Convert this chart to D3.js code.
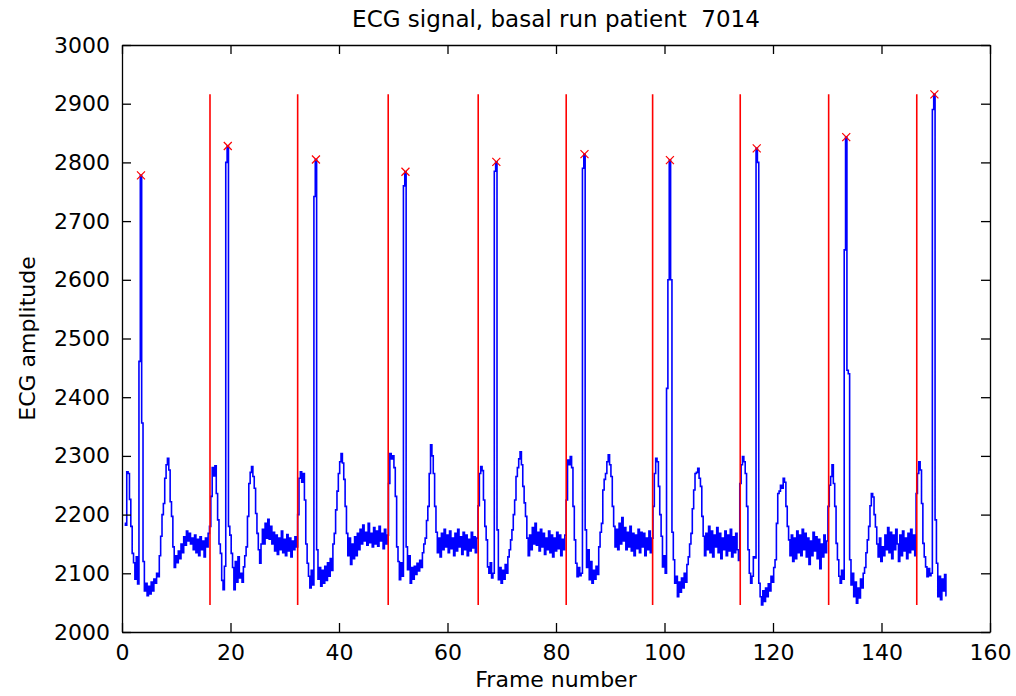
<!DOCTYPE html>
<html>
<head>
<meta charset="utf-8">
<script src="https://cdn.jsdelivr.net/npm/d3@7"></script>
<style>
  body { margin: 0; background: #fff; }
  text { font-family: "DejaVu Sans", sans-serif; fill: #000; }
</style>
</head>
<body>
<div id="chart"></div>
<script>
const width = 1016;
const height = 696;
const margin = {top: 45, right: 26, bottom: 64, left: 122};

// ECG samples, one every quarter frame starting at frame 0.5
const sampleStart = 0.5;
const sampleStep = 0.25;
const ecgAmplitude = [
  // beat 1
  2185, 2182, 2273, 2270, 2226, 2180, 2134, 2118, 2090, 2128,
  2082, 2461, 2778, 2356, 2120, 2070, 2083, 2062, 2078, 2065,
  2085, 2070, 2090, 2083, 2100, 2094, 2130, 2163, 2200, 2219,
  2262, 2285, 2296, 2276, 2222, 2197, 2145, 2110, 2130, 2118,
  2138, 2125, 2150, 2135, 2162, 2148, 2172, 2155, 2168, 2150,
  2160, 2140, 2165, 2135, 2158, 2130, 2162, 2140, 2155, 2128,
  2160, 2145, 2168,
  // beat 2
  2180, 2231, 2280, 2266, 2283, 2236, 2191, 2150, 2134, 2088,
  2072, 2112, 2800, 2828, 2180, 2165, 2134, 2110, 2072, 2120,
  2085, 2128, 2092, 2100, 2085, 2111, 2130, 2145, 2197, 2253,
  2272, 2282, 2265, 2245, 2202, 2168, 2140, 2117, 2150, 2175,
  2150, 2185, 2160, 2192, 2158, 2180, 2150, 2170, 2138, 2165,
  2132, 2160, 2140, 2172, 2135, 2158, 2130, 2166, 2138, 2160,
  2128, 2155, 2140, 2162, 2145,
  // beat 3
  2200, 2262, 2273, 2255, 2270, 2225, 2150, 2117, 2095, 2075,
  2105, 2080, 2742, 2805, 2140, 2090, 2110, 2078, 2105, 2083,
  2112, 2088, 2118, 2095, 2125, 2105, 2150, 2168, 2208, 2240,
  2270, 2290, 2304, 2288, 2260, 2214, 2168, 2130, 2160, 2115,
  2150, 2125, 2162, 2130, 2168, 2140, 2175, 2150, 2182, 2155,
  2170, 2148, 2185, 2152, 2168, 2145, 2178, 2150, 2172, 2146,
  2180, 2155, 2168, 2142, 2175, 2150, 2165,
  // beat 4
  2253, 2304, 2295, 2300, 2280, 2231, 2145, 2120, 2089, 2118,
  2095, 2760, 2784, 2145, 2106, 2130, 2083, 2110, 2090, 2112,
  2098, 2117, 2104, 2122, 2110, 2135, 2150, 2160, 2190, 2214,
  2270, 2319, 2300, 2270, 2214, 2170, 2135, 2160, 2128, 2168,
  2140, 2175, 2145, 2165, 2135, 2172, 2142, 2160, 2130, 2168,
  2138, 2175, 2145, 2162, 2132, 2170, 2140, 2165, 2130, 2158,
  2138, 2170, 2143, 2162, 2135, 2160,
  // beat 5
  2215, 2270, 2282, 2275, 2225, 2180, 2157, 2111, 2100, 2118,
  2092, 2100, 2785, 2801, 2174, 2089, 2110, 2083, 2105, 2090,
  2115, 2100, 2128, 2140, 2157, 2174, 2200, 2225, 2265, 2280,
  2295, 2307, 2285, 2248, 2220, 2197, 2160, 2130, 2165, 2140,
  2178, 2150, 2185, 2148, 2170, 2138, 2175, 2145, 2168, 2132,
  2160, 2140, 2172, 2135, 2165, 2128, 2160, 2138, 2170, 2142,
  2165, 2130, 2158, 2140, 2165,
  // beat 6
  2225, 2293, 2285, 2299, 2280, 2214, 2157, 2117, 2094, 2110,
  2096, 2100, 2790, 2814, 2174, 2110, 2140, 2089, 2120, 2083,
  2105, 2090, 2112, 2098, 2145, 2170, 2185, 2242, 2260, 2270,
  2290, 2302, 2285, 2265, 2214, 2180, 2145, 2175, 2140, 2185,
  2150, 2195, 2155, 2178, 2140, 2170, 2145, 2180, 2138, 2168,
  2130, 2165, 2142, 2175, 2135, 2170, 2145, 2168, 2130, 2160,
  2140, 2172, 2135, 2160,
  // beat 7
  2214, 2270, 2296, 2290, 2248, 2200, 2163, 2111, 2130, 2100,
  2415, 2600, 2804, 2600, 2170, 2123, 2083, 2095, 2060, 2085,
  2068, 2092, 2075, 2100, 2085, 2115, 2128, 2150, 2168, 2210,
  2242, 2270, 2272, 2279, 2262, 2248, 2197, 2163, 2130, 2168,
  2140, 2180, 2135, 2172, 2128, 2165, 2145, 2178, 2135, 2168,
  2125, 2160, 2140, 2172, 2130, 2165, 2138, 2175, 2128, 2162,
  2135, 2168, 2140, 2122,
  // beat 8
  2253, 2285, 2299, 2290, 2270, 2214, 2140, 2100, 2083, 2095,
  2128, 2126, 2824, 2800, 2083, 2060, 2046, 2070, 2052, 2075,
  2060, 2082, 2070, 2095, 2085, 2110, 2123, 2185, 2236, 2240,
  2250, 2245, 2262, 2255, 2214, 2180, 2157, 2130, 2165, 2120,
  2160, 2125, 2172, 2135, 2165, 2130, 2175, 2140, 2168, 2128,
  2160, 2115, 2155, 2130, 2170, 2138, 2162, 2125, 2158, 2108,
  2150, 2128, 2165, 2135, 2155,
  // beat 9
  2214, 2250, 2265, 2285, 2253, 2214, 2151, 2123, 2095, 2083,
  2105, 2090, 2651, 2843, 2446, 2440, 2123, 2080, 2100, 2060,
  2085, 2049, 2075, 2058, 2090, 2075, 2100, 2110, 2135, 2157,
  2180, 2215, 2236, 2230, 2200, 2179, 2150, 2128, 2160, 2120,
  2145, 2130, 2165, 2140, 2178, 2135, 2170, 2125, 2165, 2140,
  2175, 2150, 2120, 2165, 2130, 2172, 2138, 2160, 2125, 2168,
  2135, 2175, 2140, 2165, 2130,
  // beat 10
  2236, 2270, 2290, 2276, 2219, 2151, 2128, 2111, 2094, 2108,
  2096, 2100, 2890, 2916, 2191, 2117, 2060, 2095, 2055, 2090,
  2070, 2098, 2062
];

// detected beat boundaries (frame number)
const boundaryFrames = [16.22, 32.38, 49.07, 65.66, 81.88, 97.81, 113.96, 130.26, 146.5];

// detected R peaks
const peakFrames = [3.5, 19.5, 35.75, 52.25, 69, 85.25, 101, 117, 133.5, 149.75];
const peakValues = [2778, 2828, 2805, 2784, 2801, 2814, 2804, 2824, 2843, 2916];

const xTicks = [0, 20, 40, 60, 80, 100, 120, 140, 160];
const yTicks = [2000, 2100, 2200, 2300, 2400, 2500, 2600, 2700, 2800, 2900, 3000];

const titleText = "ECG signal, basal run patient\u00a0 7014";
const xLabel = "Frame number";
const yLabel = "ECG amplitude";

const svg = d3.select('#chart')
  .append('svg')
  .attr('xmlns', 'http://www.w3.org/2000/svg')
  .attr('width', width)
  .attr('height', height);

svg.append('rect').attr('width', width).attr('height', height).attr('fill', '#fff');

const x = d3.scaleLinear().domain([0, 160]).range([margin.left, width - margin.right]);
const y = d3.scaleLinear().domain([2000, 3000]).range([height - margin.bottom, margin.top]);

// signal
const line = d3.line()
  .x((d, i) => x(sampleStart + i * sampleStep))
  .y(d => y(d))
  .curve(d3.curveStep);

svg.append('path')
  .datum(ecgAmplitude)
  .attr('d', line)
  .attr('fill', 'none')
  .attr('stroke', '#0000ff')
  .attr('stroke-width', 1.6);

// beat boundaries span the signal range
const ext = d3.extent(ecgAmplitude);
svg.selectAll('.bound')
  .data(boundaryFrames)
  .enter()
  .append('line')
  .attr('class', 'bound')
  .attr('x1', d => x(d)).attr('x2', d => x(d))
  .attr('y1', y(ext[0])).attr('y2', y(ext[1]))
  .attr('stroke', '#ff0000')
  .attr('stroke-width', 1.6);

// R peak markers
const s = 4;
svg.selectAll('.peak')
  .data(peakFrames)
  .enter()
  .append('path')
  .attr('class', 'peak')
  .attr('d', (d, i) => {
    const cx = x(d), cy = y(peakValues[i]);
    return `M${cx - s},${cy - s}L${cx + s},${cy + s}M${cx - s},${cy + s}L${cx + s},${cy - s}`;
  })
  .attr('stroke', '#ff0000')
  .attr('stroke-width', 1.2)
  .attr('fill', 'none');

// axes, ticks pointing inwards on all four sides
const fontSize = '22px';
const fmt = d3.format('d');
const styleAxis = g => {
  g.select('.domain').attr('stroke', '#000').attr('stroke-width', 1.3);
  g.selectAll('.tick line').attr('stroke', '#000').attr('stroke-width', 1.3);
  g.selectAll('.tick text').attr('font-size', fontSize).attr('font-family', '"DejaVu Sans", sans-serif').attr('fill', '#222');
};

svg.append('g')
  .attr('transform', `translate(0,${height - margin.bottom})`)
  .call(d3.axisBottom(x).tickValues(xTicks).tickFormat(fmt).tickSizeInner(-9).tickSizeOuter(0).tickPadding(12))
  .call(styleAxis);

svg.append('g')
  .attr('transform', `translate(0,${margin.top})`)
  .call(d3.axisTop(x).tickValues(xTicks).tickSizeInner(-9).tickSizeOuter(0).tickFormat(''))
  .call(styleAxis);

svg.append('g')
  .attr('transform', `translate(${margin.left},0)`)
  .call(d3.axisLeft(y).tickValues(yTicks).tickFormat(fmt).tickSizeInner(-9).tickSizeOuter(0).tickPadding(12))
  .call(styleAxis);

svg.append('g')
  .attr('transform', `translate(${width - margin.right},0)`)
  .call(d3.axisRight(y).tickValues(yTicks).tickSizeInner(-9).tickSizeOuter(0).tickFormat(''))
  .call(styleAxis);

// labels
const cxPlot = (margin.left + width - margin.right) / 2;
const cyPlot = (margin.top + height - margin.bottom) / 2;

svg.append('text')
  .attr('x', cxPlot).attr('y', 27)
  .attr('text-anchor', 'middle')
  .attr('font-size', '23px')
  .attr('fill', '#222')
  .style('white-space', 'pre')
  .text(titleText);

svg.append('text')
  .attr('x', cxPlot).attr('y', 687)
  .attr('text-anchor', 'middle')
  .attr('font-size', fontSize)
  .attr('fill', '#222')
  .text(xLabel);

svg.append('text')
  .attr('transform', `translate(35,${cyPlot}) rotate(-90)`)
  .attr('text-anchor', 'middle')
  .attr('font-size', fontSize)
  .attr('fill', '#222')
  .text(yLabel);
</script>
</body>
</html>
